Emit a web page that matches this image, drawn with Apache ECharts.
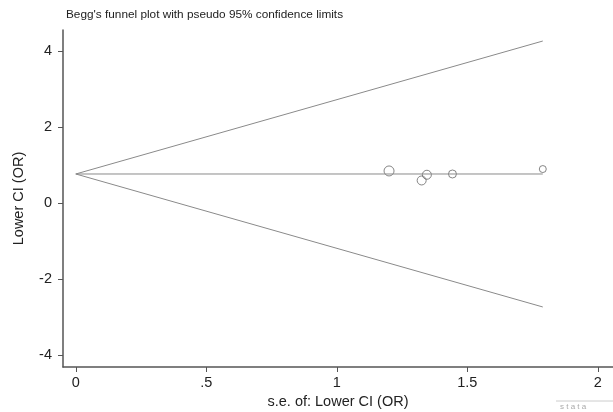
<!DOCTYPE html>
<html>
<head>
<meta charset="utf-8">
<script src="https://cdn.jsdelivr.net/npm/echarts@6/dist/echarts.min.js"></script>
<style>
  html, body { margin: 0; padding: 0; background: #fff; }
  #myChart { width: 613px; height: 412px; }
</style>
</head>
<body>
<div id="myChart"></div>
<script>
  // studies: s.e. and Lower CI (OR), marker size ~ weight
  let seValues = [1.20, 1.345, 1.325, 1.443, 1.789];
  let ciValues = [0.84, 0.74, 0.59, 0.76, 0.89];
  let markerSizes = [10, 9, 9, 8, 7];
  // pseudo 95% limits and pooled estimate
  let funnelSe = [0, 1.789];
  let upperLimit = [0.76, 4.26];
  let lowerLimit = [0.76, -2.74];
  let pooledLine = [0.76, 0.76];
  let xTicks = [0, 0.5, 1, 1.5, 2];
  let xTickLabels = ['0', '.5', '1', '1.5', '2'];
  let yTicks = [-4, -2, 0, 2, 4];

  let myChart = echarts.init(document.getElementById('myChart'));
  let lineColor = '#8a8a8a';
  let axisColor = '#555';
  let font = 'Liberation Sans, Arial, sans-serif';

  function pairs(xs, ys) {
    return xs.map((x, i) => [x, ys[i]]);
  }

  myChart.setOption({
    animation: false,
    title: {
      text: "Begg's funnel plot with pseudo 95% confidence limits",
      left: 61,
      top: 4,
      textStyle: { fontFamily: font, fontSize: 11.8, fontWeight: 'normal', color: '#222' }
    },
    grid: { left: 63, right: 0, top: 30, bottom: 45, outerBoundsMode: 'none', containLabel: false },
    xAxis: {
      type: 'value',
      min: -0.049,
      max: 2.058,
      name: 's.e. of: Lower CI (OR)',
      nameLocation: 'middle',
      nameGap: 25,
      nameTextStyle: { fontFamily: font, fontSize: 14.5, color: '#222' },
      axisLine: { show: true, onZero: false, lineStyle: { color: axisColor, width: 1.5 } },
      axisTick: { show: true, length: 5, customValues: xTicks, lineStyle: { color: axisColor } },
      axisLabel: {
        customValues: xTicks,
        fontFamily: font, fontSize: 14.5, color: '#222', margin: 8,
        formatter: v => xTickLabels[xTicks.indexOf(v)] ?? ''
      },
      splitLine: { show: false }
    },
    yAxis: {
      type: 'value',
      min: -4.32,
      max: 4.55,
      name: 'Lower CI (OR)',
      nameLocation: 'middle',
      nameGap: 37,
      nameTextStyle: { fontFamily: font, fontSize: 14.5, color: '#222' },
      axisLine: { show: true, onZero: false, lineStyle: { color: axisColor, width: 1.5 } },
      axisTick: { show: true, length: 5, customValues: yTicks, lineStyle: { color: axisColor } },
      axisLabel: { customValues: yTicks, fontFamily: font, fontSize: 14.5, color: '#222', margin: 11 },
      splitLine: { show: false }
    },
    graphic: [
      { type: 'line', shape: { x1: 556, y1: 401, x2: 613, y2: 401 }, style: { stroke: '#ccc', lineWidth: 1 } },
      { type: 'text', left: 560, top: 403, style: { text: 's t a t a', fill: '#aaa', font: '8px ' + font } }
    ],
    series: [
      {
        type: 'line', data: pairs(funnelSe, upperLimit), symbol: 'none',
        lineStyle: { color: lineColor, width: 1 }
      },
      {
        type: 'line', data: pairs(funnelSe, lowerLimit), symbol: 'none',
        lineStyle: { color: lineColor, width: 1 }
      },
      {
        type: 'line', data: pairs(funnelSe, pooledLine), symbol: 'none',
        lineStyle: { color: lineColor, width: 1 }
      },
      {
        type: 'scatter',
        data: pairs(seValues, ciValues),
        symbol: 'circle',
        symbolSize: (val, params) => markerSizes[params.dataIndex],
        itemStyle: { color: 'rgba(255,255,255,0)', borderColor: '#666', borderWidth: 1 }
      }
    ]
  });
</script>
</body>
</html>
